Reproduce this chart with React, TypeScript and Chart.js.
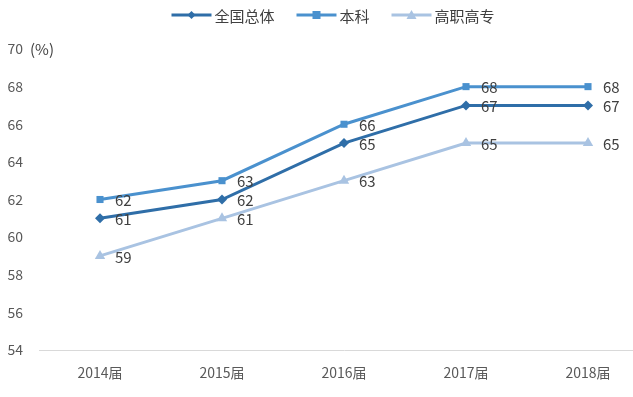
import React, { useEffect, useRef } from "react";
import { Chart, registerables } from "chart.js";

Chart.register(...registerables);

const categories = ["2014届", "2015届", "2016届", "2017届", "2018届"];
const seriesNames = ["全国总体", "本科", "高职高专"];
const overall = [61, 62, 65, 67, 67];
const undergrad = [62, 63, 66, 68, 68];
const vocational = [59, 61, 63, 65, 65];
const yTicks = [54, 56, 58, 60, 62, 64, 66, 68, 70];

const colors = ["#2F6EA8", "#4A91CE", "#A9C3E2"];
const pointStyles = ["rectRot", "rect", "triangle"];
const pointRadii = [5, 5, 6];
const FONT = "'Noto Sans CJK SC', 'Microsoft YaHei', sans-serif";

const legendPlugin = {
  id: "customLegend",
  afterDraw(chart: any) {
    const ctx = chart.ctx;
    ctx.save();
    ctx.font = `15px ${FONT}`;
    ctx.textBaseline = "middle";
    const lineW = 40;
    const gap = 3;
    const itemGap = 22;
    const widths = seriesNames.map((n) => lineW + gap + ctx.measureText(n).width);
    const total = widths.reduce((a, b) => a + b, 0) + itemGap * (seriesNames.length - 1);
    let x = 333 - total / 2;
    const y = 15;
    seriesNames.forEach((name, i) => {
      ctx.strokeStyle = colors[i];
      ctx.lineWidth = 3;
      ctx.beginPath();
      ctx.moveTo(x, y);
      ctx.lineTo(x + lineW, y);
      ctx.stroke();
      ctx.fillStyle = colors[i];
      ctx.beginPath();
      const cx = x + lineW / 2;
      if (i === 0) {
        ctx.moveTo(cx, y - 4);
        ctx.lineTo(cx + 4, y);
        ctx.lineTo(cx, y + 4);
        ctx.lineTo(cx - 4, y);
      } else if (i === 1) {
        ctx.rect(cx - 4, y - 4, 8, 8);
      } else {
        ctx.moveTo(cx, y - 5);
        ctx.lineTo(cx + 5, y + 4);
        ctx.lineTo(cx - 5, y + 4);
      }
      ctx.closePath();
      ctx.fill();
      ctx.fillStyle = "#404040";
      ctx.textAlign = "left";
      ctx.fillText(name, x + lineW + gap, y + 1);
      x += widths[i] + itemGap;
    });
    ctx.font = `15px ${FONT}`;
    ctx.fillStyle = "#404040";
    ctx.fillText("(%)", 30, chart.chartArea.top);
    ctx.restore();
  },
};

const dataLabelPlugin = {
  id: "dataLabels",
  afterDatasetsDraw(chart: any) {
    const ctx = chart.ctx;
    ctx.save();
    ctx.font = `15px ${FONT}`;
    ctx.fillStyle = "#404040";
    ctx.textAlign = "left";
    ctx.textBaseline = "middle";
    chart.data.datasets.forEach((ds: any, i: number) => {
      const meta = chart.getDatasetMeta(i);
      meta.data.forEach((pt: any, j: number) => {
        ctx.fillText(String(ds.data[j]), pt.x + 15, pt.y + 1);
      });
    });
    ctx.restore();
  },
};

export default function App() {
  const ref = useRef<HTMLCanvasElement>(null);
  useEffect(() => {
    const seriesData = [overall, undergrad, vocational];
    const chart = new Chart(ref.current!, {
      type: "line",
      data: {
        labels: categories,
        datasets: seriesNames.map((name, i) => ({
          label: name,
          data: seriesData[i],
          borderColor: colors[i],
          backgroundColor: colors[i],
          borderWidth: 3,
          pointStyle: pointStyles[i] as any,
          pointRadius: pointRadii[i],
          pointBorderWidth: 0,
          tension: 0,
        })),
      },
      options: {
        responsive: false,
        animation: false,
        layout: { padding: { top: 49, right: 0, left: 0, bottom: 0 } },
        plugins: { legend: { display: false }, tooltip: { enabled: false } },
        scales: {
          x: {
            offset: true,
            grid: { display: false, drawTicks: false },
            border: { color: "#D9D9D9", width: 1 },
            ticks: { font: { family: FONT, size: 14 }, color: "#595959", padding: 14 },
            afterFit: (s: any) => {
              s.height = 47;
            },
          },
          y: {
            min: 54,
            max: 70,
            afterBuildTicks: (s: any) => {
              s.ticks = yTicks.map((v) => ({ value: v }));
            },
            grid: { display: false, drawTicks: false },
            border: { display: false },
            ticks: { font: { family: FONT, size: 14 }, color: "#595959", padding: 16 },
            afterFit: (s: any) => {
              s.width = 39;
            },
          },
        },
      },
      plugins: [legendPlugin, dataLabelPlugin],
    });
    return () => chart.destroy();
  }, []);
  return (
    <div style={{ position: "fixed", left: 0, top: 0, width: 633, height: 397, overflow: "hidden", background: "#fff" }}>
      <canvas ref={ref} width={655} height={397} style={{ display: "block" }} />
    </div>
  );
}
